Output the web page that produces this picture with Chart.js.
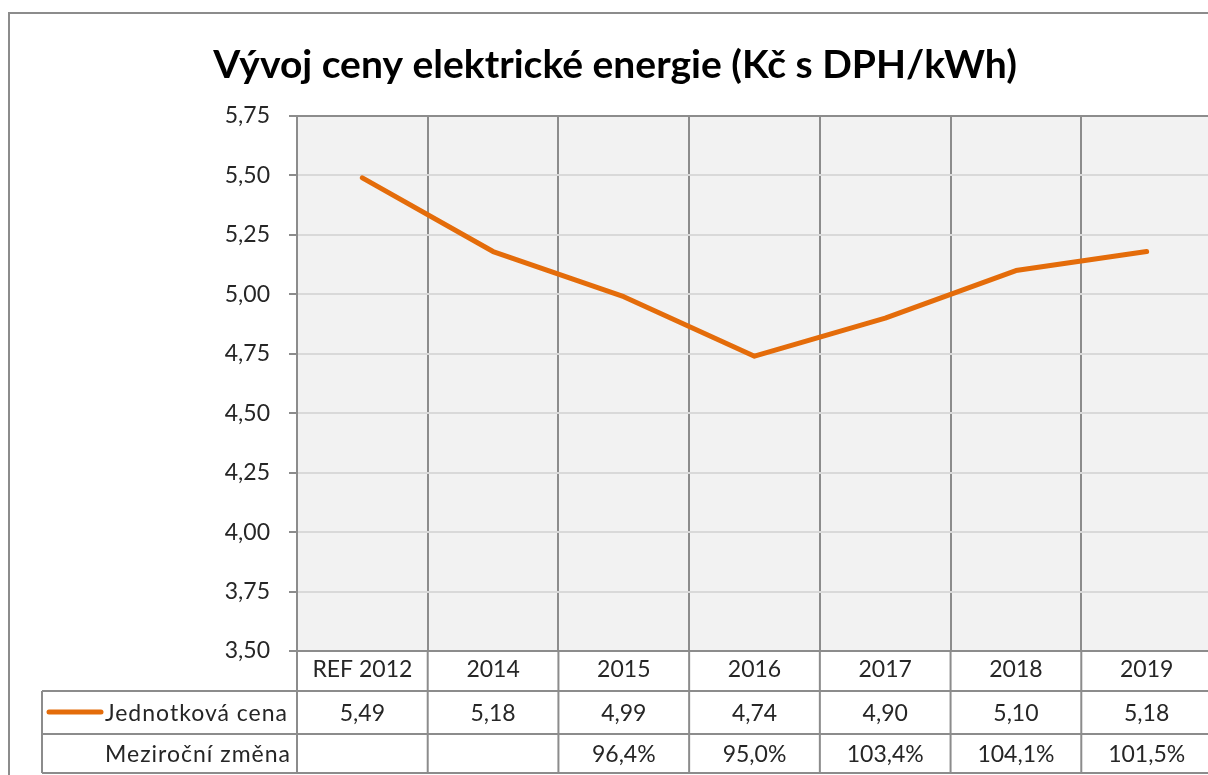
<!DOCTYPE html>
<html>
<head>
<meta charset="utf-8">
<script src="https://cdn.jsdelivr.net/npm/chart.js@4.4.1/dist/chart.umd.min.js"></script>
<style>
html,body{margin:0;padding:0;background:#fff;overflow:hidden;width:1208px;height:775px;}
canvas{display:block;}
</style>
</head>
<body>
<canvas id="c" width="1230" height="775"></canvas>
<script>
const categories = ['REF 2012','2014','2015','2016','2017','2018','2019'];
const priceValues = [5.49, 5.18, 4.99, 4.74, 4.90, 5.10, 5.18];
const yoyChange = [null, null, 96.4, 95.0, 103.4, 104.1, 101.5];
const seriesName = 'Jednotková cena';
const changeRowName = 'Meziroční změna';
const titleText = 'Vývoj ceny elektrické energie (Kč s DPH/kWh)';

const FONT = 'Lato, "Open Sans", sans-serif';
const TXT = '#262626';
const LINE_COLOR = '#E46C0A';
const GRID_DARK = '#8c8c8c';
const FS = 23;

const fmt = (v, d) => v.toFixed(d).replace('.', ',');

const tablePlugin = {
  id: 'tablePlugin',
  beforeDraw(chart) {
    const {ctx, chartArea: a} = chart;
    ctx.save();
    ctx.fillStyle = '#f2f2f2';
    ctx.fillRect(a.left, a.top, a.right - a.left, a.bottom - a.top);
    ctx.strokeStyle = GRID_DARK;
    ctx.lineWidth = 2;
    ctx.strokeRect(9, 13, 1212, 800);
    ctx.restore();
  },
  afterDraw(chart) {
    const {ctx, chartArea: a} = chart;
    const xs = chart.scales.x;
    const n = categories.length;
    const colW = (a.right - a.left) / n;
    const rowTop = a.bottom;
    const r1 = 691, r2 = 734, r3 = 773;
    const tableLeft = 42;
    ctx.save();
    ctx.strokeStyle = GRID_DARK;
    ctx.lineWidth = 2;
    ctx.beginPath();
    [r1, r2, r3].forEach(y => { ctx.moveTo(tableLeft, y); ctx.lineTo(a.right + 20, y); });
    for (let i = 0; i <= n; i++) {
      const x = a.left + i * colW;
      ctx.moveTo(x, rowTop); ctx.lineTo(x, r3);
    }
    ctx.moveTo(tableLeft, r1); ctx.lineTo(tableLeft, r3);
    ctx.stroke();

    ctx.strokeStyle = LINE_COLOR;
    ctx.lineWidth = 5;
    ctx.lineCap = 'round';
    ctx.beginPath();
    ctx.moveTo(49, 712); ctx.lineTo(101, 712);
    ctx.stroke();

    ctx.fillStyle = TXT;
    ctx.font = FS + 'px ' + FONT;
    ctx.textBaseline = 'middle';
    ctx.textAlign = 'right';
    if ('letterSpacing' in ctx) ctx.letterSpacing = '1px';
    ctx.fillText(seriesName, 288, (r1 + r2) / 2 + 1);
    ctx.fillText(changeRowName, 291, (r2 + r3) / 2 + 1);
    if ('letterSpacing' in ctx) ctx.letterSpacing = '0px';

    ctx.textAlign = 'center';
    for (let i = 0; i < n; i++) {
      const cx = xs.getPixelForValue(i);
      ctx.fillText(fmt(priceValues[i], 2), cx, (r1 + r2) / 2 + 1);
      if (yoyChange[i] !== null) ctx.fillText(fmt(yoyChange[i], 1) + '%', cx, (r2 + r3) / 2 + 1);
    }
    ctx.restore();
  }
};

new Chart(document.getElementById('c'), {
  type: 'line',
  data: {
    labels: categories,
    datasets: [{
      label: seriesName,
      data: priceValues,
      borderColor: LINE_COLOR,
      borderWidth: 5,
      pointRadius: 0,
      borderCapStyle: 'round',
      borderJoinStyle: 'round',
      tension: 0,
      fill: false
    }]
  },
  options: {
    responsive: false,
    animation: false,
    devicePixelRatio: 1,
    layout: { padding: { left: 18, right: 18, top: 0, bottom: 0 } },
    plugins: {
      legend: { display: false },
      tooltip: { enabled: false },
      title: {
        display: true,
        text: titleText,
        color: '#000',
        font: { family: FONT, size: 39, weight: 'bold', lineHeight: 1.2 },
        padding: { top: 42, bottom: 27.2 }
      }
    },
    scales: {
      x: {
        offset: true,
        grid: { offset: true, color: GRID_DARK, lineWidth: 2, drawTicks: false },
        border: { display: true, color: GRID_DARK, width: 2 },
        ticks: { color: TXT, font: { family: FONT, size: FS }, padding: 5, maxRotation: 0 },
        afterFit(s) { s.height = 124; }
      },
      y: {
        min: 3.5, max: 5.75,
        grid: {
          color: c => (c.tick && c.tick.value === 5.75) ? GRID_DARK : '#d9d9d9',
          lineWidth: 2,
          tickColor: GRID_DARK,
          tickLength: 8
        },
        border: { display: true, color: GRID_DARK, width: 2 },
        ticks: {
          stepSize: 0.25,
          color: TXT,
          padding: 19,
          font: { family: FONT, size: FS },
          callback: v => fmt(v, 2)
        },
        afterFit(s) { s.width = 279; }
      }
    }
  },
  plugins: [tablePlugin]
});
</script>
</body>
</html>
